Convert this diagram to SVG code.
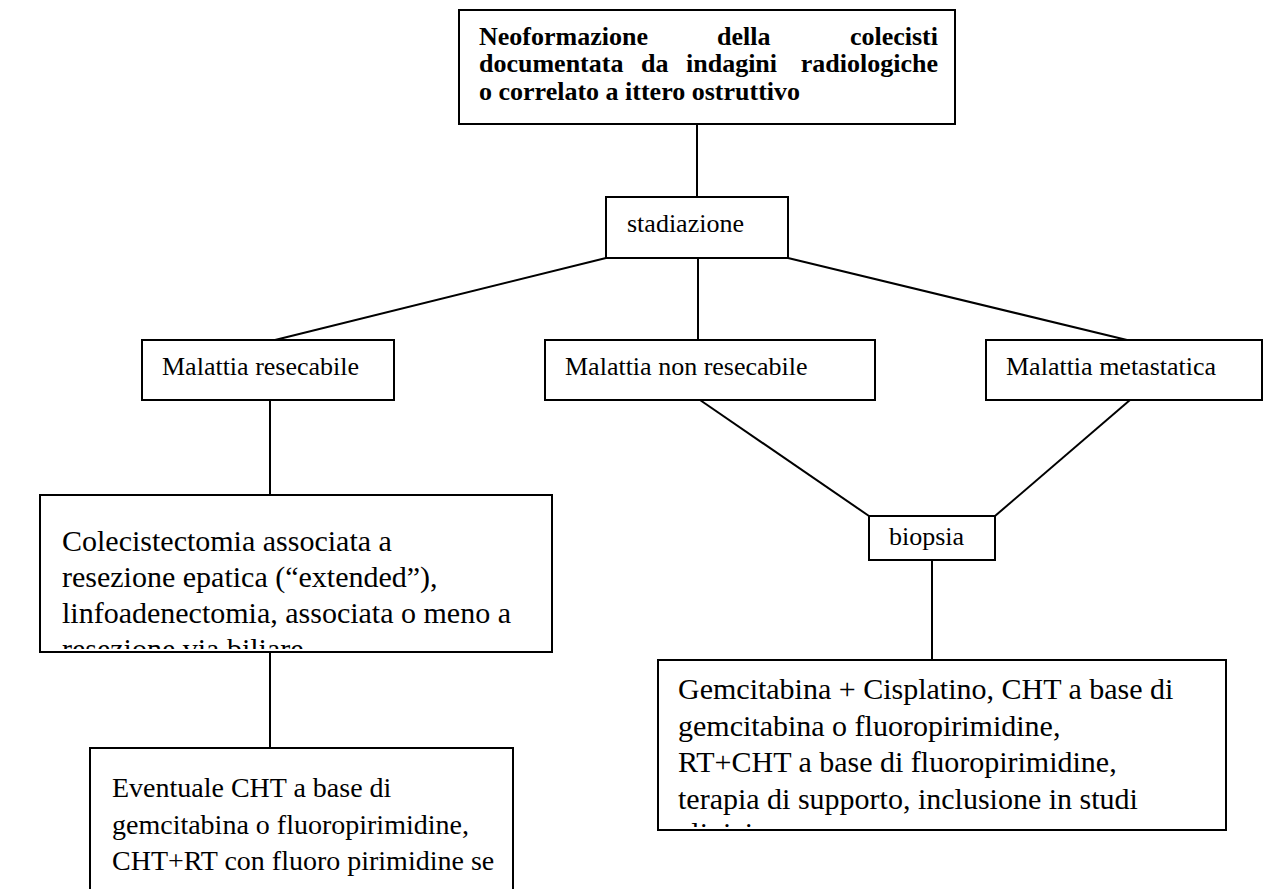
<svg xmlns="http://www.w3.org/2000/svg" width="1263" height="889" viewBox="0 0 1263 889">
  <style>
    .box { fill: #ffffff; stroke: #000000; stroke-width: 2; }
    .conn { stroke: #000000; stroke-width: 2; fill: none; }
    .lbl { font-family: "Liberation Serif", "Times New Roman", serif; font-size: 26px; fill: #000000; }
    .big { font-family: "Liberation Serif", "Times New Roman", serif; font-size: 30px; fill: #000000; }
    .bold { font-family: "Liberation Serif", "Times New Roman", serif; font-size: 26px; font-weight: bold; fill: #000000; }
  </style>
  <defs>
    <clipPath id="clip-resezione"><rect x="41" y="496" width="510" height="153"/></clipPath>
    <clipPath id="clip-terapia"><rect x="659" y="661" width="568" height="166"/></clipPath>
  </defs>
  <rect width="1263" height="889" fill="#ffffff"/>

  <g id="connectors">
    <line class="conn" x1="697" y1="124" x2="697" y2="197"/>
    <line class="conn" x1="606" y1="258" x2="275" y2="340"/>
    <line class="conn" x1="698" y1="258" x2="698" y2="340"/>
    <line class="conn" x1="788" y1="258" x2="1127" y2="340"/>
    <line class="conn" x1="270" y1="400" x2="270" y2="495"/>
    <line class="conn" x1="700" y1="400" x2="869" y2="516"/>
    <line class="conn" x1="1130" y1="400" x2="995" y2="516"/>
    <line class="conn" x1="932" y1="560" x2="932" y2="660"/>
    <line class="conn" x1="270" y1="652" x2="270" y2="748"/>
  </g>

  <g id="neoformazione">
    <rect class="box" x="459" y="10" width="496" height="114"/>
    <text class="bold" y="45"><tspan x="479">Neoformazione</tspan><tspan x="717">della</tspan><tspan x="938" text-anchor="end">colecisti</tspan></text>
    <text class="bold" y="72"><tspan x="479">documentata</tspan><tspan x="641">da</tspan><tspan x="686">indagini</tspan><tspan x="938" text-anchor="end">radiologiche</tspan></text>
    <text class="bold" x="479" y="100">o correlato a ittero ostruttivo</text>
  </g>

  <g id="stadiazione">
    <rect class="box" x="606" y="197" width="182" height="61"/>
    <text class="lbl" x="627" y="232">stadiazione</text>
  </g>

  <g id="resecabile">
    <rect class="box" x="142" y="340" width="252" height="60"/>
    <text class="lbl" x="162" y="375">Malattia resecabile</text>
  </g>

  <g id="non-resecabile">
    <rect class="box" x="545" y="340" width="330" height="60"/>
    <text class="lbl" x="565" y="375">Malattia non resecabile</text>
  </g>

  <g id="metastatica">
    <rect class="box" x="986" y="340" width="276" height="60"/>
    <text class="lbl" x="1006" y="375">Malattia metastatica</text>
  </g>

  <g id="colecistectomia">
    <rect class="box" x="40" y="495" width="512" height="157"/>
    <g clip-path="url(#clip-resezione)">
      <text class="big" x="62" y="551">Colecistectomia associata a</text>
      <text class="big" x="62" y="587">resezione epatica (“extended”),</text>
      <text class="big" x="62" y="623">linfoadenectomia, associata o meno a</text>
      <text class="big" x="62" y="659">resezione via biliare</text>
    </g>
  </g>

  <g id="biopsia">
    <rect class="box" x="869" y="516" width="126" height="44"/>
    <text class="lbl" x="889" y="545">biopsia</text>
  </g>

  <g id="terapia">
    <rect class="box" x="658" y="660" width="568" height="170"/>
    <g clip-path="url(#clip-terapia)">
      <text class="big" x="678" y="699">Gemcitabina + Cisplatino, CHT a base di</text>
      <text class="big" x="678" y="736">gemcitabina o fluoropirimidine,</text>
      <text class="big" x="678" y="772">RT+CHT a base di fluoropirimidine,</text>
      <text class="big" x="678" y="809">terapia di supporto, inclusione in studi</text>
      <text class="big" x="678" y="843">clinici</text>
    </g>
  </g>

  <g id="eventuale">
    <rect class="box" x="90" y="748" width="423" height="160"/>
    <text class="big" x="112" y="797" style="font-size:28px">Eventuale CHT a base di</text>
    <text class="big" x="112" y="834" style="font-size:28px">gemcitabina o fluoropirimidine,</text>
    <text class="big" x="112" y="870" style="font-size:28px">CHT+RT con fluoro pirimidine se</text>
  </g>
</svg>
